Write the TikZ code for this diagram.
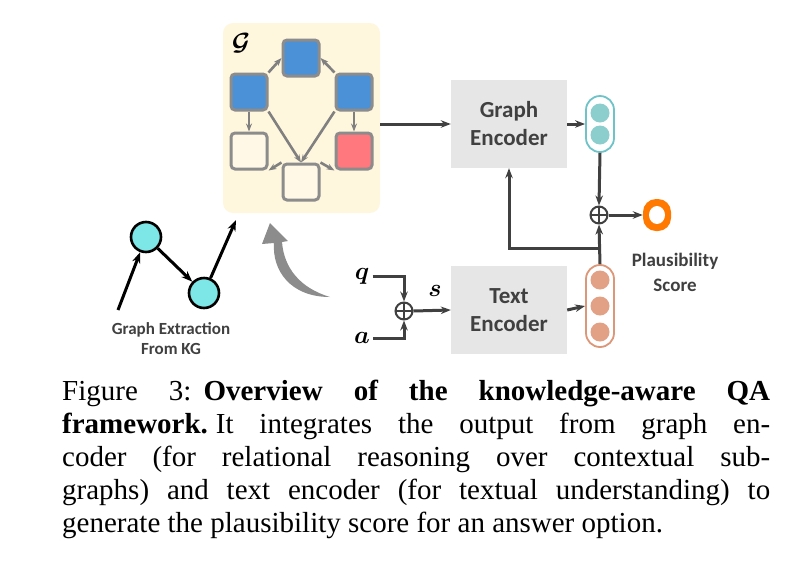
\documentclass[tikz,border=0pt]{standalone}
\usepackage{amsmath,amssymb,bm}
\usepackage{fontspec}
\setmainfont{Liberation Serif}
\newfontfamily\carlito{Carlito}
\usetikzlibrary{arrows.meta,positioning,calc}
\definecolor{boxyellow}{RGB}{255,246,222}
\definecolor{nodeblue}{RGB}{74,145,216}
\definecolor{nodered}{RGB}{255,120,125}
\definecolor{nodecream}{RGB}{255,248,230}
\definecolor{kgcyan}{RGB}{125,230,230}
\definecolor{encgray}{RGB}{230,230,230}
\definecolor{pillcyan}{RGB}{140,205,205}
\definecolor{pillcyanrim}{RGB}{110,195,200}
\definecolor{pillsalmon}{RGB}{226,160,132}
\definecolor{pillsalmonrim}{RGB}{220,150,120}
\definecolor{scoreorange}{RGB}{255,120,0}
\definecolor{linegray}{RGB}{64,64,64}
\begin{document}
\begin{tikzpicture}[
        x=1pt, y=-1pt,
        gnode/.style={draw=gray!90, line width=3pt, rounded corners=4pt, minimum size=36pt, inner sep=0pt},
        gedge/.style={draw=gray, line width=2.6pt, -{Stealth[length=8pt]}},
        kgnode/.style={circle, draw=black, line width=2.6pt, fill=kgcyan, minimum size=30pt, inner sep=0pt},
        kgedge/.style={draw=black, line width=3pt, -{Stealth[length=11pt]}},
        encoder/.style={fill=encgray, minimum width=116pt, minimum height=88pt, align=center, font=\carlito\bfseries\fontsize{23}{28}\selectfont, text=linegray},
        flow/.style={draw=linegray, line width=3pt, -{Stealth[length=10pt]}},
        plus/.style={circle, draw=linegray, line width=2pt, minimum size=17pt, inner sep=0pt, path picture={
            \draw[linegray, line width=2pt] (path picture bounding box.north) -- (path picture bounding box.south)
              (path picture bounding box.west) -- (path picture bounding box.east);}},
        dot/.style={circle, minimum size=19pt, inner sep=0pt},
        label text/.style={font=\carlito\bfseries\fontsize{17}{20}\selectfont, text=linegray, align=center}
      ]
      \useasboundingbox (0,0) rectangle (796,582);
      % Subgraph panel
      \fill[boxyellow, rounded corners=10pt] (223,23) rectangle (380,213);
      \node at (241,43) {\fontsize{24}{24}\selectfont$\bm{\mathcal{G}}$};
      \node[gnode, fill=nodeblue] (top) at (301,58) {};
      \node[gnode, fill=nodeblue] (lb) at (249,92) {};
      \node[gnode, fill=nodeblue] (rb) at (354,92) {};
      \node[gnode, fill=nodecream] (lc) at (249,151) {};
      \node[gnode, fill=nodered] (red) at (354,151) {};
      \node[gnode, fill=nodecream] (bot) at (301,182) {};
      \draw[gedge] (lb.north east) -- (top.west);
      \draw[gedge] (rb.north west) -- (top.east);
      \draw[gedge] (lb) -- (lc);
      \draw[gedge] (rb) -- (red);
      \draw[gedge] (lb.south east) -- (bot.north);
      \draw[gedge] (rb.south west) -- (bot.north);
      \draw[gedge] (bot.north west) -- (lc.south east);
      \draw[gedge] (bot.north east) -- (red.south west);

      % Knowledge graph extraction
      \node[kgnode] (k1) at (146,237) {};
      \node[kgnode] (k2) at (204,293) {};
      \coordinate (kin) at (118,310);
      \coordinate (kout) at (236,220);
      \draw[kgedge] (kin) -- (k1);
      \draw[kgedge] (k1) -- (k2);
      \draw[kgedge] (k2) -- (kout);
      \node[label text] (extract) at (171,339) {Graph Extraction\\From KG};
      \fill[gray!90] (330,297) .. controls (290,297) and (272,270) .. (274,243)
        -- (262,244) -- (270,223) -- (288,241) -- (282,242)
        .. controls (284,268) and (300,288) .. (330,297) -- cycle;

      % Encoders
      \node[encoder] (genc) at (509,124) {Graph\\Encoder};
      \node[encoder] (tenc) at (509,310) {Text\\Encoder};
      \draw[flow] (380,124) -- (genc.west);

      % Graph embedding
      \node[draw=pillcyanrim, line width=1.8pt, rounded corners=14pt, minimum width=28pt, minimum height=56pt] (gvec) at (600,124) {};
      \node[dot, fill=pillcyan] at (600,113) {};
      \node[dot, fill=pillcyan] at (600,135) {};
      \draw[flow] (genc.east) -- (gvec.west);

      % Text embedding
      \node[draw=pillsalmonrim, line width=1.8pt, rounded corners=14pt, minimum width=28pt, minimum height=82pt] (tvec) at (600,306) {};
      \node[dot, fill=pillsalmon] at (600,280) {};
      \node[dot, fill=pillsalmon] at (600,306) {};
      \node[dot, fill=pillsalmon] at (600,332) {};
      \draw[flow] (tenc.east) -- (tvec.west);

      % Fusion and score
      \node[plus] (fuse) at (599,215) {};
      \draw[flow] (gvec.south) -- (fuse.north);
      \draw[flow] (tvec.north) -- (fuse.south);
      \coordinate (split) at (600,248);
      \draw[flow] (split) -| (genc.south);
      \node[fill=scoreorange, rounded corners=13pt, minimum width=28pt, minimum height=32pt, inner sep=0pt] (score) at (657,215) {};
      \fill[white] (score.center) ellipse (8pt and 9pt);
      \draw[flow] (fuse.east) -- (score.west);
      \node[label text, font=\carlito\bfseries\fontsize{19}{25}\selectfont] (scorelbl) at (675,272) {Plausibility\\Score};

      % Question and answer input
      \node (q) at (362,276) {\fontsize{28}{28}\selectfont$\bm{q}$};
      \node (a) at (362,338) {\fontsize{28}{28}\selectfont$\bm{a}$};
      \node[plus] (qa) at (404,311) {};
      \draw[flow] (q.east) -| (qa.north);
      \draw[flow] (a.east) -| (qa.south);
      \draw[flow] (qa.east) -- (tenc.west);
      \node at (435,291) {\fontsize{28}{28}\selectfont$\bm{s}$};

      % Caption
      \node[anchor=north west, inner sep=0pt] (caption) at (62,380) {\parbox{708pt}{\fontsize{29}{33}\selectfont\hyphenpenalty=10000
        Figure 3:\hspace{12pt}\textbf{Overview of the knowledge-aware QA}\linebreak
        \textbf{framework.}\hspace{8pt}It integrates the output from graph en-\linebreak
        coder (for relational reasoning over contextual sub-\linebreak
        graphs) and text encoder (for textual understanding) to\linebreak
        generate the plausibility score for an answer option.}};
    \end{tikzpicture}
\end{document}
